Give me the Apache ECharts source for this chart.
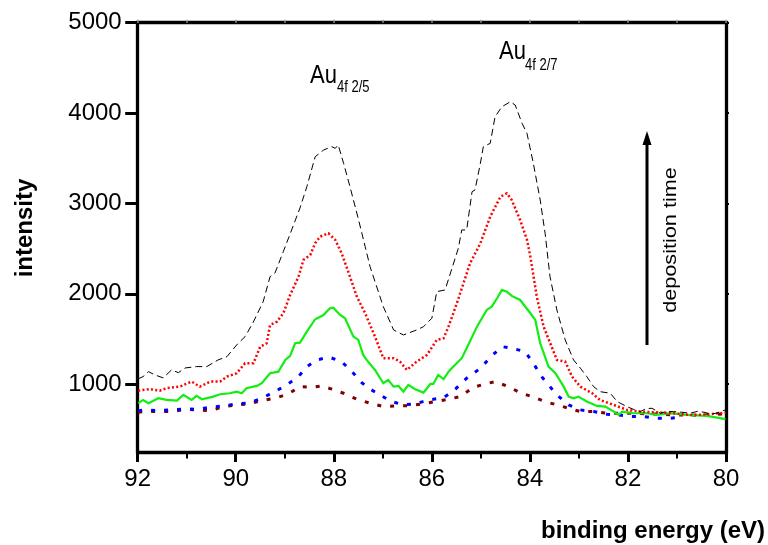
<!DOCTYPE html>
<html>
<head>
<meta charset="utf-8">
<script src="https://cdn.jsdelivr.net/npm/echarts@6/dist/echarts.min.js"></script>
<style>
  html, body { margin: 0; padding: 0; background: #fff; }
  #chart { width: 768px; height: 545px; }
</style>
</head>
<body>
<div id="chart"></div>
<script>
// Au 4f XPS spectra, binding energy (eV) vs intensity, for increasing deposition time
const energyTicks = [80, 82, 84, 86, 88, 90, 92];
const intensityTicks = [1000, 2000, 3000, 4000, 5000];

// longest deposition (black dashed)
const run5 = [
  [91.99,1060],[91.89,1084],[91.78,1139],[91.65,1103],[91.48,1070],[91.31,1158],[91.17,1128],
  [91.03,1180],[90.80,1195],[90.59,1195],[90.36,1269],[90.18,1305],[89.98,1435],[89.81,1527],
  [89.65,1678],[89.44,1914],[89.30,2190],[89.20,2230],[89.03,2467],[88.86,2707],[88.69,2950],
  [88.55,3185],[88.38,3517],[88.21,3591],[88.04,3628],[87.97,3610],[87.91,3647],[87.80,3444],
  [87.67,3185],[87.50,2830],[87.36,2522],[87.26,2300],[86.99,1858],[86.78,1600],[86.58,1545],
  [86.31,1600],[86.17,1637],[86.00,1730],[85.90,2024],[85.73,2043],[85.46,2504],[85.39,2707],
  [85.29,2707],[85.18,3130],[85.12,3149],[85.01,3444],[84.95,3628],[84.81,3665],[84.71,3960],
  [84.57,4070],[84.40,4126],[84.30,4089],[84.16,3887],[84.06,3776],[83.93,3444],[83.79,3038],
  [83.69,2670],[83.59,2190],[83.45,1822],[83.28,1490],[83.11,1269],[82.97,1177],[82.84,1084],
  [82.70,973],[82.57,918],[82.36,900],[82.22,808],[82.02,752],[81.88,720],[81.75,697],
  [81.63,730],[81.51,734],[81.34,679],[81.20,700],[81.07,697],[80.90,690],[80.73,679],
  [80.58,700],[80.45,690],[80.30,670],[80.20,679],[80.01,716]
];

// red dotted
const run4 = [
  [91.99,929],[91.75,945],[91.55,929],[91.41,956],[91.14,973],[90.90,1029],[90.73,973],
  [90.52,1029],[90.32,1029],[90.18,1084],[89.98,1122],[89.81,1232],[89.64,1232],[89.50,1416],
  [89.37,1453],[89.30,1656],[89.16,1692],[89.03,1785],[88.89,1988],[88.72,2190],[88.62,2375],
  [88.48,2430],[88.38,2560],[88.28,2633],[88.11,2670],[87.97,2596],[87.84,2449],[87.67,2190],
  [87.53,1969],[87.36,1785],[87.16,1527],[86.99,1288],[86.78,1288],[86.65,1250],[86.51,1158],
  [86.31,1250],[86.10,1324],[85.90,1490],[85.76,1509],[85.66,1637],[85.49,1896],[85.22,2338],
  [85.01,2560],[84.81,2854],[84.60,3075],[84.47,3112],[84.37,3038],[84.20,2817],[84.06,2600],
  [83.99,2411],[83.86,1969],[83.72,1637],[83.45,1269],[83.28,1250],[83.14,1084],[82.97,973],
  [82.73,900],[82.57,826],[82.29,771],[82.02,716],[81.75,697],[81.48,690],[81.07,679],
  [80.73,660],[80.39,665],[80.01,686]
];

// green solid
const run3 = [
  [91.99,790],[91.89,826],[91.78,790],[91.58,845],[91.41,826],[91.20,819],[91.07,882],
  [90.90,826],[90.80,871],[90.69,834],[90.46,863],[90.32,889],[90.12,900],[89.98,918],
  [89.88,900],[89.78,956],[89.57,981],[89.47,1011],[89.30,1122],[89.13,1139],[88.99,1269],
  [88.89,1313],[88.79,1453],[88.69,1460],[88.55,1582],[88.38,1719],[88.21,1766],[88.08,1840],
  [88.01,1847],[87.87,1766],[87.77,1730],[87.60,1527],[87.50,1490],[87.40,1324],[87.33,1269],
  [87.16,1158],[86.99,1011],[86.89,1048],[86.78,973],[86.68,981],[86.58,918],[86.48,992],
  [86.34,945],[86.17,907],[86.03,1003],[85.97,1003],[85.87,1103],[85.76,1055],[85.66,1139],
  [85.56,1195],[85.39,1288],[85.29,1398],[85.08,1637],[84.88,1822],[84.78,1858],[84.67,1951],
  [84.57,2043],[84.47,2024],[84.37,1977],[84.20,1932],[83.99,1785],[83.89,1711],[83.79,1453],
  [83.62,1195],[83.48,1122],[83.31,973],[83.21,863],[83.11,845],[83.01,863],[82.84,808],
  [82.63,760],[82.46,752],[82.29,697],[82.19,660],[82.12,697],[81.89,679],[81.61,679],
  [81.41,660],[81.14,679],[80.80,660],[80.39,649],[80.01,613]
];

// blue short dash
const run2 = [
  [91.99,705],[91.85,716],[91.58,708],[91.31,716],[91.03,727],[90.76,723],[90.52,745],
  [90.25,760],[89.98,782],[89.74,790],[89.47,845],[89.20,918],[88.96,992],[88.72,1084],
  [88.55,1195],[88.35,1269],[88.09,1299],[87.84,1250],[87.60,1122],[87.43,1018],[87.29,956],
  [87.06,882],[86.82,808],[86.58,771],[86.34,782],[86.07,826],[85.76,850],[85.52,945],
  [85.29,1066],[85.01,1177],[84.78,1313],[84.57,1416],[84.37,1398],[84.10,1361],[83.93,1232],
  [83.76,1084],[83.45,882],[83.21,771],[82.97,716],[82.70,697],[82.43,668],[82.19,660],
  [81.92,642],[81.68,642],[81.41,624],[81.14,624],[80.90,635]
];

// shortest deposition (maroon short dash)
const run1 = [
  [91.99,690],[91.85,697],[91.58,697],[91.31,697],[91.03,723],[90.76,716],[90.52,705],
  [90.25,752],[89.98,771],[89.74,782],[89.47,819],[89.20,845],[88.93,893],[88.69,973],
  [88.42,967],[88.24,981],[88.04,945],[87.80,900],[87.53,834],[87.26,790],[86.99,752],
  [86.71,760],[86.48,763],[86.20,782],[85.93,808],[85.66,834],[85.42,863],[85.15,967],
  [84.91,1003],[84.71,1029],[84.44,973],[84.20,907],[83.96,863],[83.69,808],[83.45,771],
  [83.21,734],[82.97,697],[82.70,697],[82.43,679],[82.16,679],[81.89,679],[81.61,671],
  [81.34,671],[81.07,660],[80.80,660],[80.52,657],[80.25,665],[80.01,671]
];

const FONT = '"Liberation Sans", Arial, Helvetica, sans-serif';
const chart = echarts.init(document.getElementById('chart'), null, { renderer: 'canvas' });

const axisLineStyle = { color: '#000', width: 3.3, cap: 'square' };

function curve(name, data, color, width, dash) {
  return {
    name, type: 'line', data, showSymbol: false, symbol: 'none', smooth: false,
    animation: false, xAxisIndex: 0, yAxisIndex: 0,
    lineStyle: { color, width, type: dash, cap: 'butt', join: 'miter' }
  };
}

// plain text element, optionally rotated and stretched
function label(text, x, y, font, opts) {
  opts = opts || {};
  return {
    type: 'text', x, y,
    rotation: opts.rotation || 0,
    scaleX: opts.scaleX || 1, scaleY: opts.scaleY || 1,
    style: { text, x: 0, y: 0, font, fill: '#000',
             align: opts.align || 'left', verticalAlign: 'middle' }
  };
}

chart.setOption({
  backgroundColor: '#fff',
  animation: false,
  grid: { left: 137.7, right: 42, top: 22.7, bottom: 93, containLabel: false },
  xAxis: [
    {
      type: 'value', min: energyTicks[0], max: energyTicks[energyTicks.length - 1], interval: 2,
      inverse: true, position: 'bottom',
      axisLine: { show: true, onZero: false, lineStyle: axisLineStyle },
      axisTick: { show: true, inside: false, length: 10, lineStyle: { color: '#000', width: 3 } },
      minorTick: { show: true, splitNumber: 2, length: 6.5, lineStyle: { color: '#000', width: 2 } },
      splitLine: { show: false },
      axisLabel: { show: true, margin: 15, color: '#000', fontFamily: FONT, fontSize: 24,
                   formatter: v => String(v) }
    },
    {
      type: 'value', min: 80, max: 92, interval: 1, inverse: true, position: 'top',
      axisLine: { show: true, onZero: false, lineStyle: axisLineStyle },
      axisTick: { show: true, inside: false, length: 3, lineStyle: { color: '#999', width: 1.5 } },
      axisLabel: { show: false }, splitLine: { show: false }
    }
  ],
  yAxis: [
    {
      type: 'value', min: 250, max: 5000, position: 'left',
      axisLine: { show: true, onZero: false, lineStyle: axisLineStyle },
      axisTick: { show: true, inside: false, length: 12.5, customValues: intensityTicks,
                  lineStyle: { color: '#000', width: 3 } },
      axisLabel: { show: true, margin: 16, color: '#000', fontFamily: FONT, fontSize: 24,
                   customValues: intensityTicks, formatter: v => String(v) },
      splitLine: { show: false }
    },
    {
      type: 'value', min: 250, max: 5000, position: 'right',
      axisLine: { show: true, onZero: false, lineStyle: axisLineStyle },
      axisTick: { show: true, inside: false, length: 3, customValues: intensityTicks,
                  lineStyle: { color: '#000', width: 2 } },
      axisLabel: { show: false }, splitLine: { show: false }
    }
  ],
  series: [
    curve('maroon', run1, '#7f0000', 3, [4, 9]),
    curve('blue', run2, '#0000ff', 3, [4, 9]),
    curve('green', run3, '#11ee11', 2.2, 'solid'),
    curve('red', run4, '#ff0000', 2.5, [2, 2.3]),
    curve('black', run5, '#000000', 1, [7, 4])
  ],
  graphic: [
    label('intensity', 25, 228, 'bold 24px ' + FONT, { align: 'center', rotation: Math.PI / 2 }),
    label('binding energy (eV)', 765, 531, 'bold 24px ' + FONT, { align: 'right' }),
    label('Au', 310, 76, '22px ' + FONT, { scaleY: 1.14 }),
    label('4f 2/5', 337, 88, '13px ' + FONT, { scaleY: 1.2 }),
    label('Au', 499, 52.5, '22px ' + FONT, { scaleY: 1.14 }),
    label('4f 2/7', 525, 65.5, '13px ' + FONT, { scaleY: 1.2 }),
    { type: 'line', shape: { x1: 647, y1: 345, x2: 647, y2: 142 },
      style: { stroke: '#000', lineWidth: 3 } },
    { type: 'polygon', shape: { points: [[647, 131], [642.5, 145], [651.5, 145]] },
      style: { fill: '#000' } },
    label('deposition time', 671, 240, '19px ' + FONT,
          { align: 'center', rotation: Math.PI / 2, scaleX: 1.14 })
  ]
});
</script>
</body>
</html>
